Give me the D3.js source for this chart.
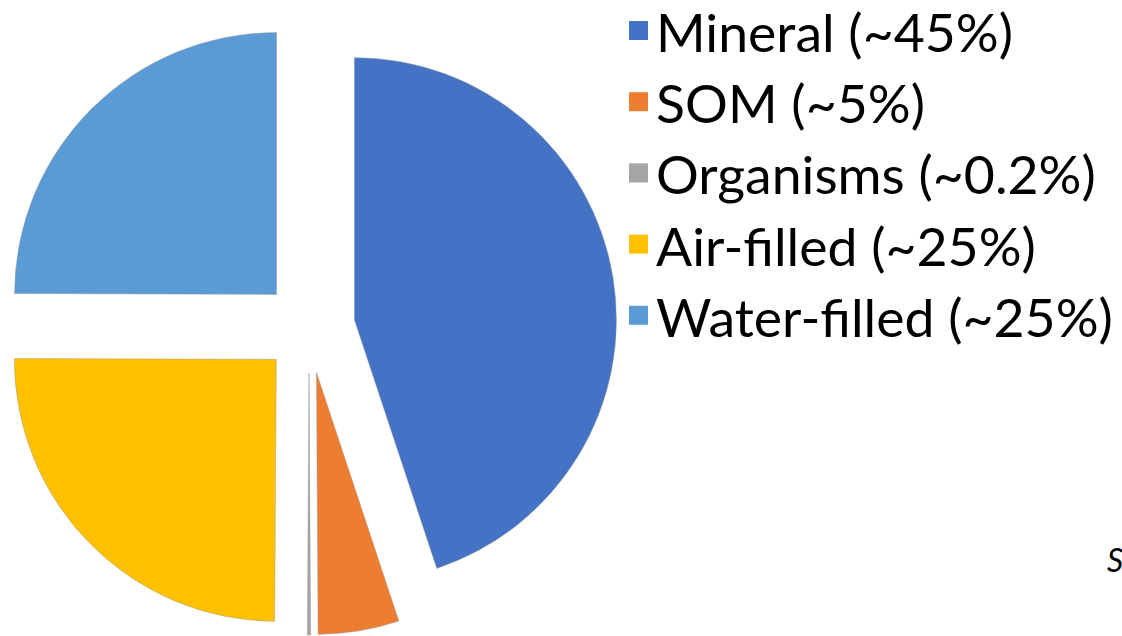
<!DOCTYPE html>
<html>
<head>
<meta charset="utf-8">
<script src="https://cdn.jsdelivr.net/npm/d3@7"></script>
<style>
  html, body { margin: 0; padding: 0; background: #ffffff; overflow: hidden; }
  svg { display: block; }
</style>
</head>
<body>
<svg id="chart" width="1122" height="636"></svg>
<script>
// ---- data ----
const categories = ["Mineral", "SOM", "Organisms", "Air-filled", "Water-filled"];
const values = [45, 5, 0.2, 25, 25];
const legendLabels = ["Mineral (~45%)", "SOM (~5%)", "Organisms (~0.2%)", "Air-filled (~25%)", "Water-filled (~25%)"];
const colors = ["#4472C4", "#ED7D31", "#A5A5A5", "#FFC000", "#5B9BD5"];
const footnote = "S";

// ---- layout ----
const W = 1122, H = 636;
const cx = 309, cy = 327, radius = 262, explode = 46;
const svg = d3.select("#chart");

const pie = d3.pie().sort(null).value(d => d.value).startAngle(0).endAngle(2 * Math.PI);
const arc = d3.arc().innerRadius(0).outerRadius(radius);
const data = categories.map((c, i) => ({ name: c, value: values[i], color: colors[i] }));
const arcs = pie(data);

const g = svg.append("g").attr("transform", `translate(${cx},${cy})`);
g.selectAll("path.slice")
  .data(arcs)
  .join("path")
  .attr("class", "slice")
  .attr("d", arc)
  .attr("fill", d => d.data.color)
  .attr("stroke", "#9a9a9a")
  .attr("stroke-opacity", 0.6)
  .attr("stroke-width", 0.8)
  .attr("transform", d => {
    const a = (d.startAngle + d.endAngle) / 2;
    return `translate(${explode * Math.sin(a)},${-explode * Math.cos(a)})`;
  });

// ---- legend ----
const fontFamily = "Lato, 'Open Sans', sans-serif";
const legendX = 629, textX = 656, firstBaseline = 52, rowStep = 71.2, markerSize = 19;
const fontSize = 53;
const legend = svg.append("g");
const rows = legend.selectAll("g.row")
  .data(legendLabels)
  .join("g")
  .attr("class", "row")
  .attr("transform", (d, i) => `translate(0,${firstBaseline + i * rowStep})`);

rows.append("rect")
  .attr("x", legendX)
  .attr("y", -31)
  .attr("width", markerSize)
  .attr("height", markerSize)
  .attr("fill", (d, i) => colors[i]);

const texts = rows.append("text")
  .attr("x", 0)
  .attr("y", 0)
  .attr("font-family", fontFamily)
  .attr("font-size", fontSize)
  .attr("fill", "#000000")
  .text(d => d);

// condense horizontally so the longest label spans the same width as in the reference
const targetWidth = 1113 - textX;
const w0 = texts.filter((d, i) => i === 4).node().getComputedTextLength();
const sx = targetWidth / w0;
texts.attr("transform", `translate(${textX},0) scale(${sx},1)`);

// ---- footnote (cut at the right edge) ----
svg.append("text")
  .attr("x", 1107)
  .attr("y", 572)
  .attr("font-family", fontFamily)
  .attr("font-style", "italic")
  .attr("font-size", 32)
  .attr("fill", "#000000")
  .text(footnote);
</script>
</body>
</html>
